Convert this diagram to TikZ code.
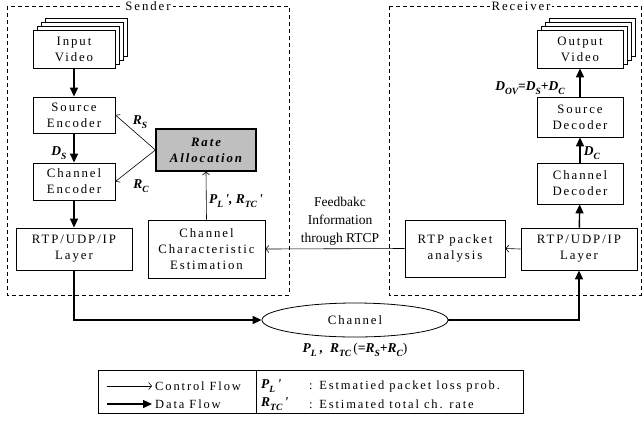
\documentclass[tikz,border=0pt]{standalone}
\usepackage{fontspec}
\setmainfont[LetterSpace=15]{Liberation Serif}
\newfontfamily\plainfont{Liberation Serif}
\usetikzlibrary{arrows.meta,shapes.geometric,calc}
\newcommand\bim[1]{{\plainfont\bfseries\itshape #1}}
\newcommand\sbs[1]{\raisebox{-0.55ex}{\fontsize{9.5}{9.5}\selectfont\plainfont\bfseries\itshape #1}}
\tikzset{
  box/.style={draw, line width=0.8pt, fill=white, align=center, inner sep=0pt,
    font=\fontsize{12.8}{16}\selectfont},
  data/.style={line width=1.4pt, -{Triangle[length=9pt,width=8pt]}},
  ctrl/.style={line width=0.6pt, -{Straight Barb[length=3pt,width=7pt]}},
  frame/.style={draw, line width=0.7pt, dash pattern=on 4pt off 3pt},
  lab/.style={font=\fontsize{13.5}{15}\selectfont, inner sep=0pt},
  ttl/.style={fill=white, inner sep=2pt, font=\fontsize{12.8}{15}\selectfont},
  legtxt/.style={anchor=west, inner sep=0pt, font=\fontsize{12.5}{15}\selectfont}
}
\begin{document}
\begin{tikzpicture}[x=1pt,y=-1pt]
\useasboundingbox (0,0) rectangle (642,424);
% frames
\draw[frame] (7,6) rectangle (289,295);
\draw[frame] (389,6) rectangle (641,295);
\node[ttl] (sender) at (148,6) {Sender};
\node[ttl] (receiver) at (521,6) {Receiver};
% stacks
\foreach \k in {3,2,1}{
  \draw[line width=0.8pt,fill=white] ({33+4*\k},{30-4*\k}) rectangle ({115+4*\k},{68-4*\k});
  \draw[line width=0.8pt,fill=white] ({537+4*\k},{30-4*\k}) rectangle ({623+4*\k},{68-4*\k});
}
% sender nodes
\node[box, minimum width=82, minimum height=38] (invid) at (74,49) {Input\\Video};
\node[box, minimum width=82, minimum height=36] (srcenc) at (74,115) {Source\\Encoder};
\node[box, minimum width=82, minimum height=37] (chenc) at (74,181.5) {Channel\\Encoder};
\node[box, minimum width=116, minimum height=42] (rtps) at (74,249) {RTP/UDP/IP\\Layer};
\node[box, fill=black!25, line width=1.2pt, minimum width=100, minimum height=42,
  font=\fontsize{12.8}{16}\selectfont\bfseries\itshape] (rate) at (206,150) {Rate\\Allocation};
\node[box, minimum width=117, minimum height=58] (cce) at (206.5,249) {Channel\\Characteristic\\Estimation};
% receiver nodes
\node[box, minimum width=86, minimum height=38] (outvid) at (580,49) {Output\\Video};
\node[box, minimum width=86, minimum height=40] (srcdec) at (580,117) {Source\\Decoder};
\node[box, minimum width=86, minimum height=41] (chdec) at (580,183.5) {Channel\\Decoder};
\node[box, minimum width=116, minimum height=42] (rtpr) at (579,249) {RTP/UDP/IP\\Layer};
\node[box, minimum width=100, minimum height=57] (rtpa) at (455,248.5) {RTP packet\\analysis};
% channel
\node[box, ellipse, minimum width=186, minimum height=34] (chan) at (355,320) {Channel};
% data arrows
\draw[data] (invid) -- (srcenc);
\draw[data] (srcenc) -- (chenc);
\draw[data] (chenc) -- (rtps);
\draw[data] (rtps.south) |- (chan.west);
\draw[data] (chan.east) -| (rtpr.south);
\draw[data] (rtpr) -- (chdec);
\draw[data] (chdec) -- (srcdec);
\draw[data] (srcdec) -- (outvid);
% control arrows
\draw[ctrl] (rate.west) -- (srcenc.east);
\draw[ctrl] (rate.west) -- (chenc.east);
\draw[ctrl] (cce.north) -- (rate.south);
\draw[ctrl] (rtpr.west) -- (rtpa.east);
\draw[ctrl] (rtpa.west) -- (cce.east);
% labels
\node[lab] (lds) at (59,153) {\bim{D}\sbs{S}};
\node[lab] (lrs) at (140,122) {\bim{R}\sbs{S}};
\node[lab] (lrc) at (141,186) {\bim{R}\sbs{C}};
\node[lab] (lpl) at (236,201) {\bim{P}\sbs{L}\bim{\,', R}\sbs{TC}\bim{\,'}};
\node[lab] (ldov) at (530,88) {\bim{D}\sbs{OV}\bim{=D}\sbs{S}\bim{+D}\sbs{C}};
\node[lab] (ldc) at (592,153) {\bim{D}\sbs{C}};
\node[lab] (lch) at (355,350) {\bim{P}\sbs{L}\bim{\ ,\ \ R}\sbs{TC}{\plainfont\,(}\bim{=R}\sbs{S}\bim{+R}\sbs{C}{\plainfont)}};
\node[align=center, font=\plainfont\fontsize{13.5}{18}\selectfont, inner sep=0pt] (fb) at (340,221) {Feedbakc\\Information\\through RTCP};
% legend
\node[draw, line width=0.8pt, minimum width=425, minimum height=43, inner sep=0pt] (leg) at (310.5,391.5) {};
\draw[line width=0.8pt] ($(leg.north west)+(159,0)$) -- ($(leg.south west)+(159,0)$);
\coordinate (c1) at (107,386); \coordinate (c2) at (152,386);
\coordinate (d1) at (107,404); \coordinate (d2) at (152,404);
\draw[ctrl] (c1) -- (c2);
\draw[data] (d1) -- (d2);
\node[legtxt] (lcf) at (155,386) {Control Flow};
\node[legtxt] (ldf) at (155,404) {Data Flow};
\node[anchor=west, lab] (lpl2) at (261,386) {\bim{P}\sbs{L}\bim{\,'}};
\node[anchor=west, lab] (lrt2) at (261,404) {\bim{R}\sbs{TC}\bim{\,'}};
\node[legtxt] (t1) at (309,386) {: Estmatied packet loss prob.};
\node[legtxt] (t2) at (309,404) {: Estimated total ch. rate};
\end{tikzpicture}
\end{document}
